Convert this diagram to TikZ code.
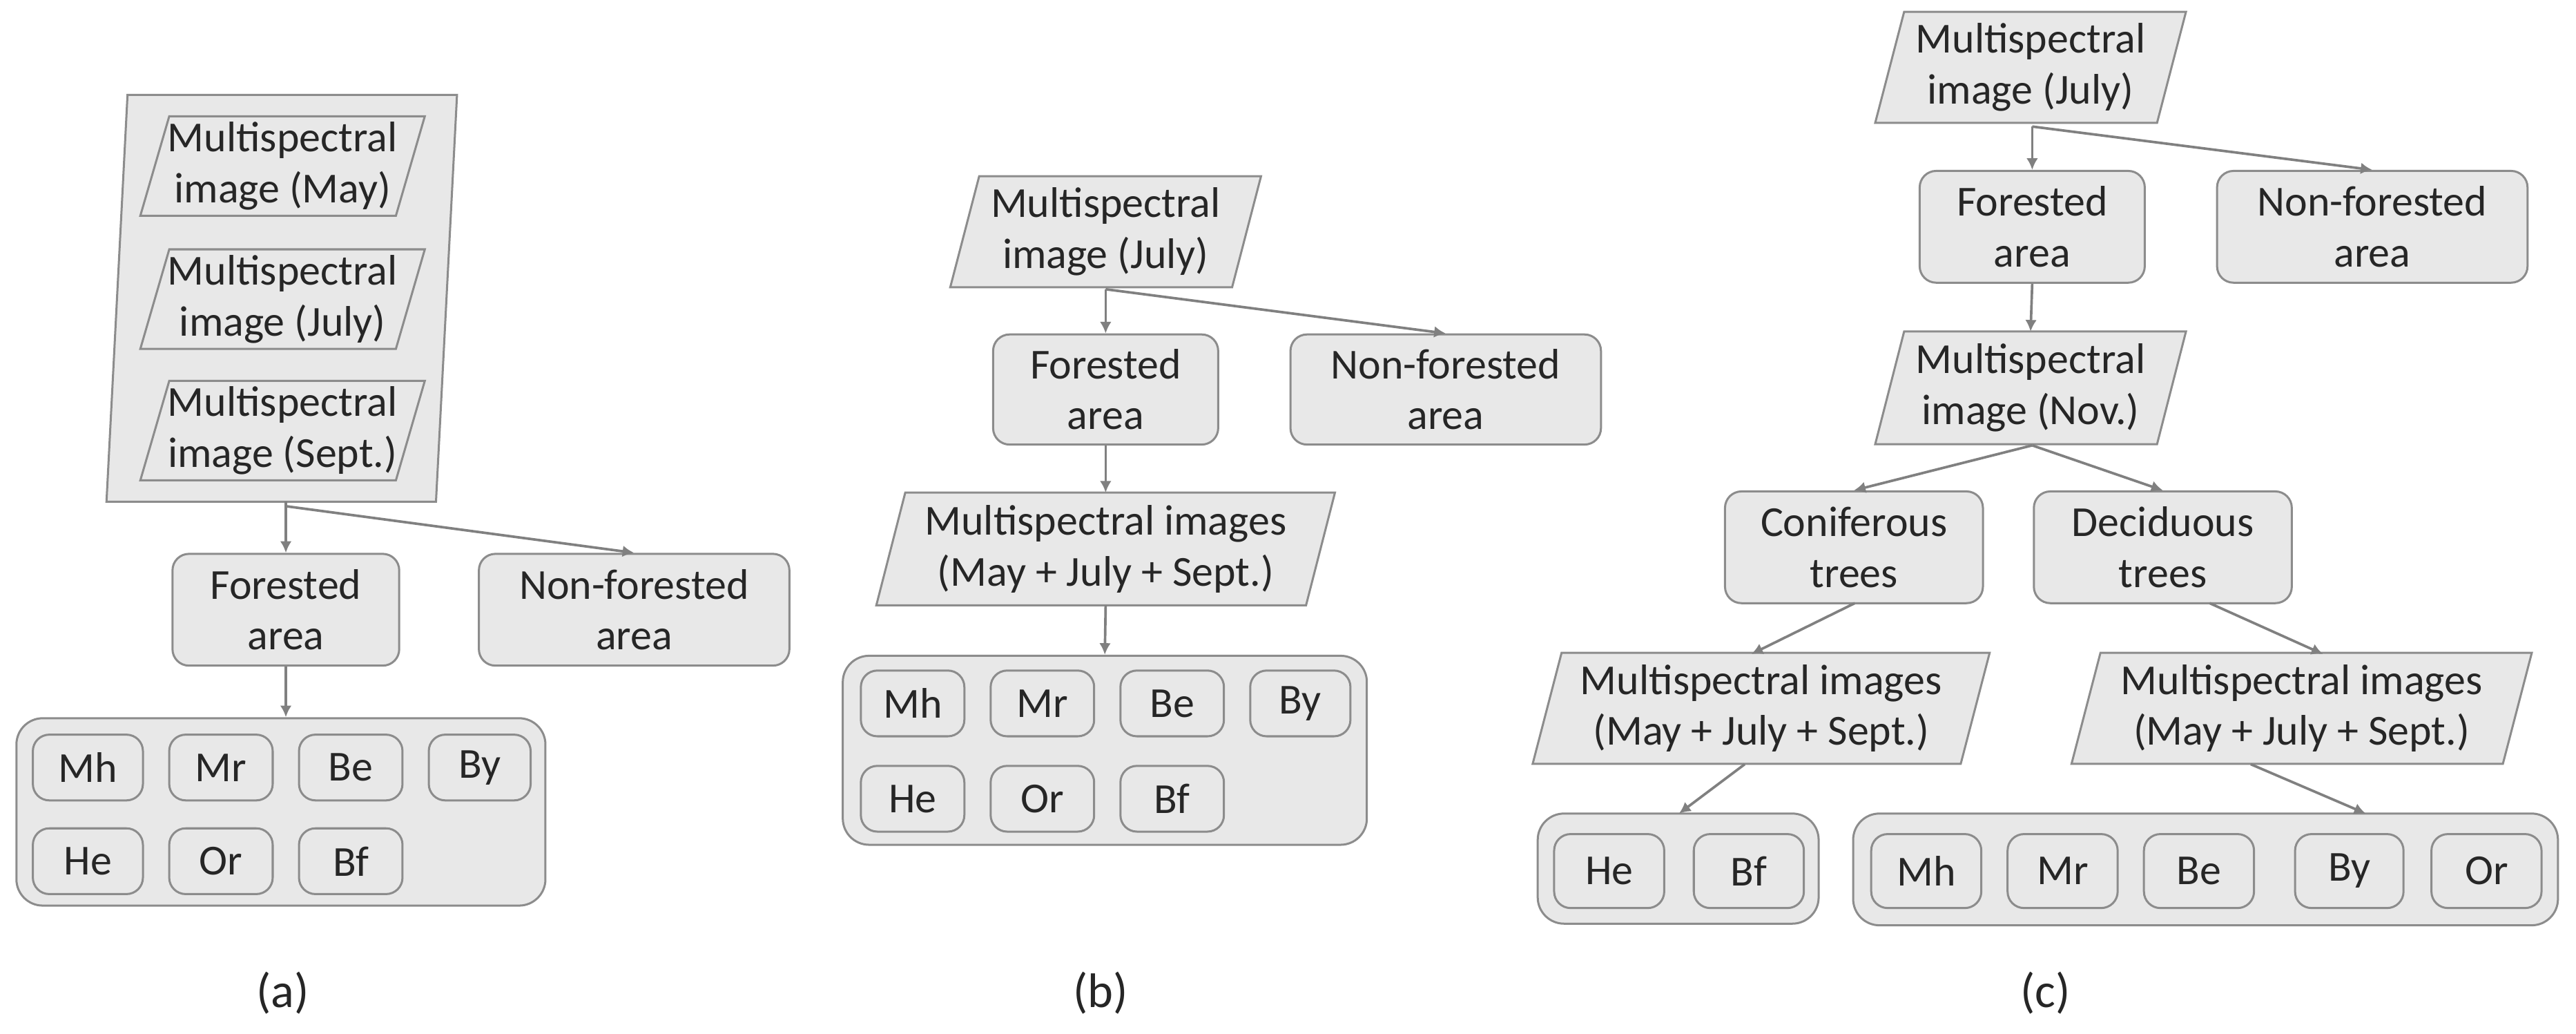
\documentclass[tikz,border=0pt]{standalone}
\usepackage{fontspec}
\setmainfont{Carlito}
\usetikzlibrary{backgrounds,arrows.meta}
\definecolor{bg}{HTML}{E8E8E8}
\definecolor{bd}{HTML}{8C8C8C}
\definecolor{ln}{HTML}{808080}
\begin{document}
\begin{tikzpicture}[x=0.025cm,y=-0.025cm,
  txt/.style={align=center,inner sep=0pt,font=\fontsize{18.5}{22}\selectfont,text=black!85},
  rbox/.style={txt,draw=bd,fill=bg,rounded corners=0.25cm,line width=0.9pt},
  pbox/.style={txt,draw=none},
  grp/.style={draw=bd,fill=bg,rounded corners=0.4cm,line width=0.9pt},
  arr/.style={draw=ln,line width=1.1pt,-{Latex[length=5pt,width=5pt]}},
  pd/.style={draw=bd,fill=bg,line width=0.9pt}]
\useasboundingbox (0,0) rectangle (1568,629);
\newcommand\para[6]{%
  \node[pbox,minimum width=#4*0.025cm,minimum height=#5*0.025cm] (#1) at (#2,#3) {#6};
  \begin{pgfonlayer}{background}
  \draw[pd] ([xshift=0.22cm]#1.north west) -- ([xshift=0.22cm]#1.north east) -- ([xshift=-0.22cm]#1.south east) -- ([xshift=-0.22cm]#1.south west) -- cycle;
  \end{pgfonlayer}}
\newcommand\rb[6]{\node[rbox,minimum width=#4*0.025cm,minimum height=#5*0.025cm] (#1) at (#2,#3) {#6};}
% ---------- (a)
\node[pbox,minimum width=200*0.025cm,minimum height=247*0.025cm] (outer) at (171.5,181.5) {};
\begin{pgfonlayer}{background}
\draw[pd] ([xshift=0.16cm]outer.north west) -- ([xshift=0.16cm]outer.north east) -- ([xshift=-0.16cm]outer.south east) -- ([xshift=-0.16cm]outer.south west) -- cycle;
\end{pgfonlayer}
\para{am}{172}{101}{155}{60}{Multispectral\\image (May)}
\para{aj}{172}{182}{155}{60}{Multispectral\\image (July)}
\para{as}{172}{262}{155}{60}{Multispectral\\image (Sept.)}
\rb{af}{174}{371}{138}{68}{Forested\\area}
\rb{an}{386}{371}{189}{68}{Non-forested\\area}
\node[grp,minimum width=322*0.025cm,minimum height=114*0.025cm] (ag) at (171,494) {};
\rb{a1}{53.5}{467}{67}{40}{Mh}
\rb{a2}{134.5}{467}{63}{40}{Mr}
\rb{a3}{213.5}{467}{63}{40}{Be}
\rb{a4}{292}{467}{62}{40}{By}
\rb{a5}{53.5}{524}{67}{40}{He}
\rb{a6}{134.5}{524}{63}{40}{Or}
\rb{a7}{213.5}{524}{63}{40}{Bf}
\coordinate (ac) at (174,308);
\draw[ln,line width=1.1pt] (outer.south -| ac) -- (ac);
\draw[arr] (ac) -- (af.north);
\draw[arr] (ac) -- (an.north);
\draw[arr] (af.south) -- (ag.north -| af.south);
\node[txt,font=\fontsize{21}{24}\selectfont] (la) at (172,604) {(a)};
% ---------- (b)
\para{bj}{673}{141}{171}{67}{Multispectral\\image (July)}
\rb{bf}{673}{237}{137}{67}{Forested\\area}
\rb{bn}{880}{237}{189}{67}{Non-forested\\area}
\para{bm}{673}{334}{261}{68}{Multispectral images\\(May + July + Sept.)}
\node[grp,minimum width=319*0.025cm,minimum height=115*0.025cm] (bg) at (672.5,456.5) {};
\rb{b1}{555.5}{428}{63}{40}{Mh}
\rb{b2}{634.5}{428}{63}{40}{Mr}
\rb{b3}{713.5}{428}{63}{40}{Be}
\rb{b4}{791.5}{428}{61}{40}{By}
\rb{b5}{555.5}{486}{63}{40}{He}
\rb{b6}{634.5}{486}{63}{40}{Or}
\rb{b7}{713.5}{486}{63}{40}{Bf}
\coordinate (bc) at (673,176);
\draw[arr] (bc) -- (bf.north);
\draw[arr] (bc) -- (bn.north);
\draw[arr] (bf.south) -- (bm.north);
\draw[arr] (bm.south) -- (bg.north);
\node[txt,font=\fontsize{21}{24}\selectfont] (lb) at (670,604) {(b)};
% ---------- (c)
\para{cj}{1236}{41}{171}{67}{Multispectral\\image (July)}
\rb{cf}{1237}{138}{137}{68}{Forested\\area}
\rb{cn}{1444}{138}{189}{68}{Non-forested\\area}
\para{cv}{1236}{236}{171}{68}{Multispectral\\image (Nov.)}
\rb{cc}{1128.5}{333}{157}{68}{Coniferous\\trees}
\rb{cd}{1316.5}{333}{157}{68}{Deciduous\\trees}
\para{cl}{1072}{431}{260}{67}{Multispectral images\\(May + July + Sept.)}
\para{cr}{1401}{431}{262}{67}{Multispectral images\\(May + July + Sept.)}
\node[grp,minimum width=171*0.025cm,minimum height=67*0.025cm] (cgl) at (1021.5,528.5) {};
\rb{c1}{979.5}{530}{67}{45}{He}
\rb{c2}{1064.5}{530}{67}{45}{Bf}
\node[grp,minimum width=429*0.025cm,minimum height=68*0.025cm] (cgr) at (1342.5,529) {};
\rb{c3}{1172.5}{530}{67}{45}{Mh}
\rb{c4}{1255.5}{530}{67}{45}{Mr}
\rb{c5}{1338.5}{530}{67}{45}{Be}
\rb{c6}{1430}{530}{66}{45}{By}
\rb{c7}{1513.5}{530}{67}{45}{Or}
\coordinate (cc1) at (1237,77);
\draw[arr] (cc1) -- (cf.north);
\draw[arr] (cc1) -- (cn.north);
\draw[arr] (cf.south) -- (cv.north);
\coordinate (cc2) at (1237,271);
\draw[arr] (cc2) -- (cc.north);
\draw[arr] (cc2) -- (cd.north);
\coordinate (p1) at (1129,367); \coordinate (q1) at (1066,398);
\draw[arr] (p1) -- (q1);
\coordinate (p2) at (1345,367); \coordinate (q2) at (1414,398);
\draw[arr] (p2) -- (q2);
\coordinate (p3) at (1062,465); \coordinate (q3) at (1022,495);
\draw[arr] (p3) -- (q3);
\coordinate (p4) at (1370,465); \coordinate (q4) at (1440,495);
\draw[arr] (p4) -- (q4);
\node[txt,font=\fontsize{21}{24}\selectfont] (lc) at (1245,604) {(c)};
\end{tikzpicture}
\end{document}
